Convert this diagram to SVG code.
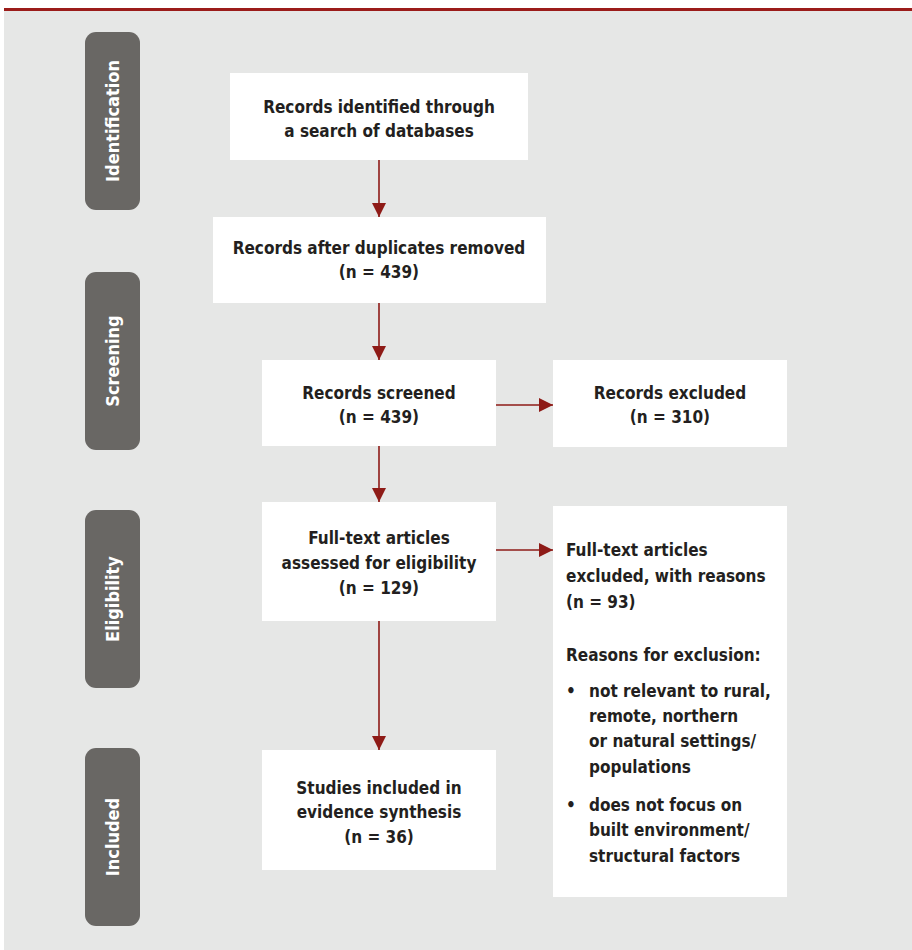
<svg xmlns="http://www.w3.org/2000/svg" width="912" height="950" viewBox="0 0 912 950">
<defs>
<style>
.panel{fill:#e6e7e6}
.side{fill:#696764}
.sidet{fill:#ffffff;font-family:"Liberation Sans Narrow","DejaVu Sans Condensed","Liberation Sans",sans-serif;font-weight:bold;font-size:18px;text-anchor:middle}
.box{fill:#ffffff}
.t{fill:#231f20;font-family:"Liberation Sans Narrow","DejaVu Sans Condensed","Liberation Sans",sans-serif;font-weight:bold;font-size:17px}
.c{text-anchor:middle}
.conn{stroke:#8e1b17;stroke-width:1.6;fill:none}
</style>
<marker id="ah" viewBox="0 0 10 10" refX="10" refY="5" markerWidth="14" markerHeight="14" markerUnits="userSpaceOnUse" orient="auto">
<path d="M0,0 L10,5 L0,10 z" fill="#8e1b17"/>
</marker>
</defs>
<rect x="0" y="0" width="912" height="950" fill="#ffffff"/>
<rect class="panel" x="4" y="10" width="908" height="940"/>
<rect x="4" y="8" width="908" height="3" fill="#9b1c1a"/>

<g id="stage-identification"><rect class="side" x="85" y="32" width="55" height="178" rx="11"/><text class="sidet" transform="translate(119,121) rotate(-90)">Identification</text></g>
<g id="stage-screening"><rect class="side" x="85" y="272" width="55" height="178" rx="11"/><text class="sidet" transform="translate(119,361) rotate(-90)">Screening</text></g>
<g id="stage-eligibility"><rect class="side" x="85" y="510" width="55" height="178" rx="11"/><text class="sidet" transform="translate(119,599) rotate(-90)">Eligibility</text></g>
<g id="stage-included"><rect class="side" x="85" y="748" width="55" height="178" rx="11"/><text class="sidet" transform="translate(119,837) rotate(-90)">Included</text></g>

<g id="identified"><rect class="box" x="230" y="73" width="298" height="87"/><text class="t c" x="379" y="113">Records identified through</text><text class="t c" x="379" y="137">a search of databases</text></g>
<g id="dedup"><rect class="box" x="213" y="217" width="333" height="86"/><text class="t c" x="379" y="254">Records after duplicates removed</text><text class="t c" x="379" y="278">(n = 439)</text></g>
<g id="screened"><rect class="box" x="262" y="360" width="234" height="86"/><text class="t c" x="379" y="399">Records screened</text><text class="t c" x="379" y="423">(n = 439)</text></g>
<g id="excluded"><rect class="box" x="553" y="360" width="234" height="87"/><text class="t c" x="670" y="399">Records excluded</text><text class="t c" x="670" y="423">(n = 310)</text></g>
<g id="fulltext"><rect class="box" x="262" y="502" width="234" height="119"/><text class="t c" x="379" y="544">Full-text articles</text><text class="t c" x="379" y="569">assessed for eligibility</text><text class="t c" x="379" y="594">(n = 129)</text></g>
<g id="ft-excluded"><rect class="box" x="553" y="506" width="234" height="391"/>
<text class="t" x="566" y="556">Full-text articles</text>
<text class="t" x="566" y="582">excluded, with reasons</text>
<text class="t" x="566" y="608">(n = 93)</text>
<text class="t" x="566" y="661">Reasons for exclusion:</text>
<text class="t" x="566" y="697">•</text>
<text class="t" x="589" y="697">not relevant to rural,</text>
<text class="t" x="589" y="722">remote, northern</text>
<text class="t" x="589" y="747">or natural settings/</text>
<text class="t" x="589" y="773">populations</text>
<text class="t" x="566" y="811">•</text>
<text class="t" x="589" y="811">does not focus on</text>
<text class="t" x="589" y="836">built environment/</text>
<text class="t" x="589" y="862">structural factors</text>
</g>
<g id="included"><rect class="box" x="262" y="750" width="234" height="120"/><text class="t c" x="379" y="794">Studies included in</text><text class="t c" x="379" y="818">evidence synthesis</text><text class="t c" x="379" y="843">(n = 36)</text></g>

<g id="connectors">
<line class="conn" x1="379" y1="160" x2="379" y2="217" marker-end="url(#ah)"/>
<line class="conn" x1="379" y1="303" x2="379" y2="360" marker-end="url(#ah)"/>
<line class="conn" x1="379" y1="446" x2="379" y2="502" marker-end="url(#ah)"/>
<line class="conn" x1="379" y1="621" x2="379" y2="750" marker-end="url(#ah)"/>
<line class="conn" x1="496" y1="405" x2="553" y2="405" marker-end="url(#ah)"/>
<line class="conn" x1="496" y1="550" x2="553" y2="550" marker-end="url(#ah)"/>
</g>
</svg>
